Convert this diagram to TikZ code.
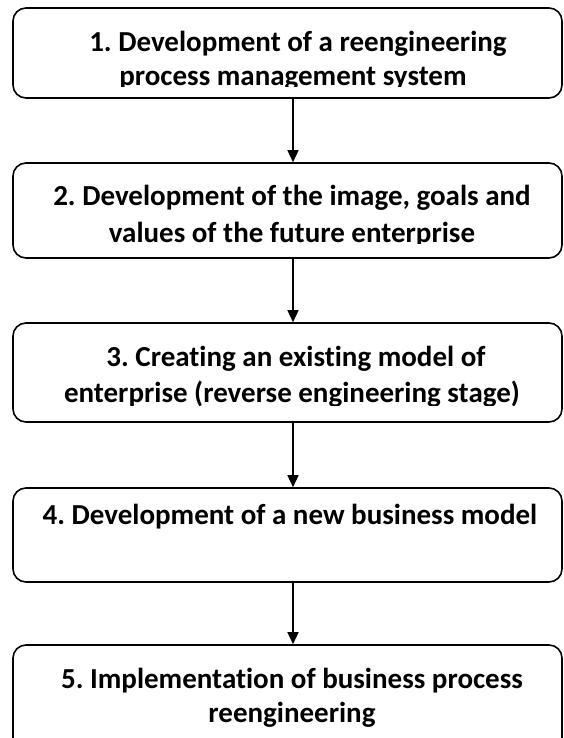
\documentclass[tikz,border=0pt]{standalone}
\usepackage{fontspec}
\setmainfont{Carlito}[Ligatures={NoCommon}]
\usetikzlibrary{arrows.meta}
\frenchspacing
\begin{document}
\begin{tikzpicture}[x=1pt,y=-1pt,
  stage/.style={draw=black, line width=1.6pt, rounded corners=13pt, fill=white,
    minimum width=549pt, inner sep=0pt},
  txt/.style={anchor=base, inner sep=0pt, font=\fontsize{29}{34}\selectfont\bfseries},
  flow/.style={line width=1.5pt, -{Triangle[length=12pt,width=11pt]}}]
\useasboundingbox (0,0) rectangle (563,738);
\clip (0,0) rectangle (563,738);
% stage boxes
\node[stage, minimum height=90pt] (b1) at (287.5,53) {};
\node[stage, minimum height=95pt] (b2) at (287.5,210.5) {};
\node[stage, minimum height=99pt] (b3) at (287.5,372.5) {};
\node[stage, minimum height=94pt] (b4) at (287.5,535) {};
\node[stage, minimum height=120pt] (b5) at (287.5,705) {};
% texts, cut off at the bottom of their frames
\begin{scope}
  \clip (13,8) rectangle (562,87);
  \node[txt] (t1a) at (298,52) {1. Development of a reengineering};
  \node[txt] (t1b) at (293,86) {process management system};
\end{scope}
\begin{scope}
  \clip (13,163) rectangle (562,243.5);
  \node[txt] (t2a) at (292,205) {2. Development of the image, goals and};
  \node[txt] (t2b) at (292,242) {values of the future enterprise};
\end{scope}
\begin{scope}
  \clip (13,323) rectangle (562,405);
  \node[txt] (t3a) at (296,366) {3. Creating an existing model of};
  \node[txt] (t3b) at (292,402) {enterprise (reverse engineering stage)};
\end{scope}
\node[txt] (t4) at (290,524) {4. Development of a new business model};
\begin{scope}
  \clip (13,645) rectangle (562,727);
  \node[txt] (t5a) at (292,688) {5. Implementation of business process};
  \node[txt] (t5b) at (292,722) {reengineering};
\end{scope}
% connectors
\coordinate (ax) at (293,0);
\draw[flow] (b1.south -| ax) -- (b2.north -| ax);
\draw[flow] (b2.south -| ax) -- (b3.north -| ax);
\draw[flow] (b3.south -| ax) -- (b4.north -| ax);
\draw[flow] (b4.south -| ax) -- (b5.north -| ax);
\end{tikzpicture}
\end{document}
